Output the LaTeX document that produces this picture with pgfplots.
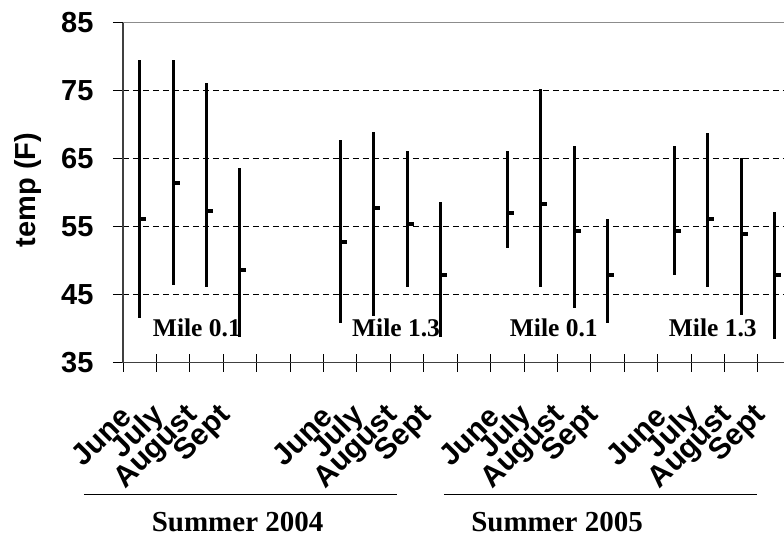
\documentclass[border=0pt]{standalone}
\usepackage{pgfplots}
\pgfplotsset{compat=1.18}
\usepackage{pgfplotstable}
\usepackage{fontspec}
\setmainfont{Liberation Sans}
\newfontfamily\tnr{Liberation Serif}

\newcommand\ytfont{\fontsize{29}{33}\selectfont\bfseries}
\newcommand\monfont{\fontsize{30}{34}\selectfont\bfseries}
\newcommand\ylfont{\fontsize{29}{34}\selectfont\bfseries}

% monthly water temperature: x slot, low, high, mean
\pgfplotstableread{
x  lo   hi   mean
0  41.5 79.5 56.2
1  46.4 79.5 61.4
2  46.1 76.1 57.3
3  38.8 63.6 48.6
6  40.8 67.8 52.8
7  41.8 68.9 57.7
8  46.2 66.2 55.4
9  38.8 58.7 47.9
11 51.8 66.2 57.0
12 46.2 75.3 58.4
13 43.1 66.9 54.4
14 40.8 56.1 47.9
16 47.9 66.9 54.4
17 46.2 68.8 56.2
18 42.0 65.1 53.9
19 38.5 57.2 47.9
}\tempdata

% short flag on the right of each range line marking the mean
\pgfdeclareplotmark{meanflag}{%
  \pgfpathrectangle{\pgfpoint{0pt}{-2pt}}{\pgfpoint{6.5pt}{4pt}}%
  \pgfusepathqfill}

\begin{document}
\begin{tikzpicture}
\begin{axis}[
  x=33.42pt, y=6.8pt,
  xmin=-0.5, xmax=19.28,
  ymin=35, ymax=85,
  clip=false,
  axis x line*=bottom, axis y line*=left,
  axis line style={-, draw=black!75, line width=1.4pt},
  ytick={35,45,...,85},
  yticklabels={{\ytfont 35},{\ytfont 45},{\ytfont 55},{\ytfont 65},{\ytfont 75},{\ytfont 85}},
  ymajorgrids,
  major grid style={black, line width=0.8pt, dash pattern=on 6pt off 4pt},
  ytick align=outside,
  major tick length=10pt,
  ytick style={black, line width=1.2pt},
  yticklabel style={anchor=east, xshift=-16pt},
  xtick={0,1,2,3,6,7,8,9,11,12,13,14,16,17,18,19},
  xticklabels={{\monfont June},{\monfont July},{\monfont August},{\monfont Sept},
               {\monfont June},{\monfont July},{\monfont August},{\monfont Sept},
               {\monfont June},{\monfont July},{\monfont August},{\monfont Sept},
               {\monfont June},{\monfont July},{\monfont August},{\monfont Sept}},
  major x tick style={draw=none},
  minor xtick={-0.5,0.5,...,19.5},
  minor tick length=18pt,
  xtick align=center,
  minor x tick style={black, line width=0.9pt},
  xticklabel style={xshift=-11pt, yshift=-41pt, rotate=45, anchor=east},
]
% low-high range lines
\addplot[draw=none, mark=none,
  error bars/.cd, y dir=both, y explicit, error mark=none,
  error bar style={draw=black, line width=3pt, solid}]
  table[x=x, y=mean,
        y error plus expr=\thisrow{hi}-\thisrow{mean},
        y error minus expr=\thisrow{mean}-\thisrow{lo}] {\tempdata};
% means
\addplot[only marks, black, mark=meanflag] table[x=x, y=mean] {\tempdata};

% top border of the plot area
\draw[black!45, line width=1.4pt] (rel axis cs:0,1) -- (rel axis cs:1,1);

% axis title
\node[rotate=90, anchor=center, inner sep=0pt] at (axis cs:-3.35,60.4) {\ylfont temp (F)};

% site labels
\begin{scope}[every node/.style={font=\tnr\fontsize{25.5}{30}\selectfont\bfseries, anchor=base, inner sep=0pt}]
\node at (axis cs:1.71,38.8) {Mile 0.1};
\node at (axis cs:7.67,38.8) {Mile 1.3};
\node at (axis cs:12.39,38.8) {Mile 0.1};
\node at (axis cs:17.15,38.8) {Mile 1.3};
\end{scope}

% season brackets
\draw[black, line width=1.3pt] (axis cs:-1.67,15.65) -- (axis cs:7.70,15.65);
\draw[black, line width=1.3pt] (axis cs:9.10,15.65) -- (axis cs:18.46,15.65);
\begin{scope}[every node/.style={font=\tnr\fontsize{29}{34}\selectfont\bfseries, anchor=base, inner sep=0pt}]
\node at (axis cs:2.93,10.15) {Summer 2004};
\node at (axis cs:12.49,10.15) {Summer 2005};
\end{scope}

\coordinate (bbll) at (axis cs:-4.18,9.37);
\coordinate (bbur) at (axis cs:19.28,88.34);
\end{axis}
\pgfresetboundingbox
\path[use as bounding box] (bbll) rectangle (bbur);
\end{tikzpicture}
\end{document}
